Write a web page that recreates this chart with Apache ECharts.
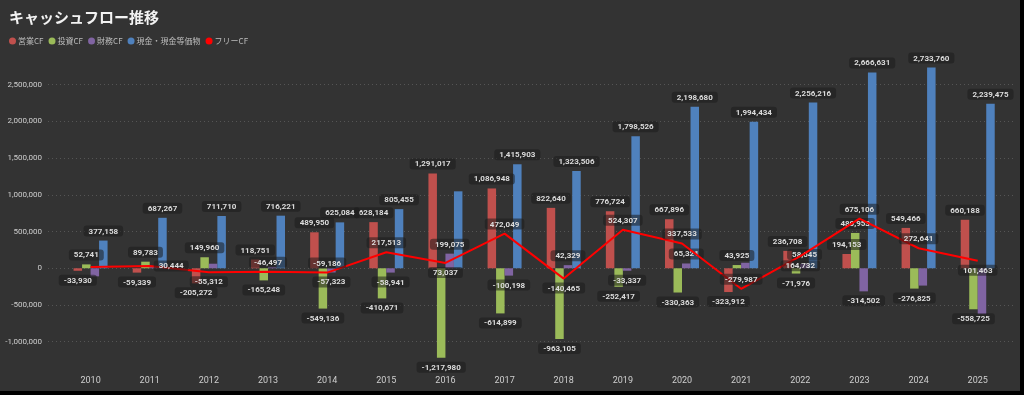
<!DOCTYPE html>
<html><head><meta charset="utf-8">
<script src="https://cdn.jsdelivr.net/npm/echarts@6/dist/echarts.min.js"></script>
<style>html,body{margin:0;padding:0;background:#000;}#c{width:1020px;height:391px;background:#333;}</style>
</head><body><div id="c"></div>
<script>
const years = ['2010','2011','2012','2013','2014','2015','2016','2017','2018','2019','2020','2021','2022','2023','2024','2025'];
const operatingCF = [-33930, -59339, -205272, 118751, 489950, 628184, 1291017, 1086948, 822640, 776724, 667896, -323912, 236708, 194153, 549466, 660188];
const investingCF = [52741, 89783, 149960, -165248, -549136, -410671, -1217980, -614899, -963105, -252417, -330363, 43925, -71976, 480953, -276825, -558725];
const financingCF = [-110000, 15000, 62000, 20000, -57323, -58941, 199075, -100198, 42329, -33337, 65321, 75000, 58545, -314502, -236000, -625000];
const cashEquiv = [377158, 687267, 711710, 716221, 625084, 805455, 1048000, 1415903, 1323506, 1798526, 2198680, 1994434, 2256216, 2666631, 2733760, 2239475];
const freeCF = [18811, 30444, -55312, -46497, -59186, 217513, 73037, 472049, -140465, 524307, 337533, -279987, 164732, 675106, 272641, 101463];
const seriesNames = ['営業CF', '投資CF', '財務CF', '現金・現金等価物', 'フリーCF'];
const yTicks = { min: -1500000, max: 3000000, step: 500000 };

// label display settings (not data)
const hiddenLabels = { '財務CF': ['2010','2011','2012','2013','2021','2024','2025'], '現金・現金等価物': ['2016'], 'フリーCF': ['2010'] };
const lineLabelBelow = ['2012','2016','2018','2022','2025'];
const lineLabelRight = ['2011'];

const fmt = v => Number(v).toLocaleString('en-US');
const labelBase = {
  show: true, formatter: p => fmt(p.value), color: '#dcdcdc', fontSize: 8, fontWeight: 'bold',
  fontFamily: 'Roboto, "DejaVu Sans", sans-serif',
  backgroundColor: 'rgba(28,28,28,0.55)', padding: [2, 5, 1, 5], borderRadius: 3, distance: 4
};
function barData(name, arr) {
  const hid = hiddenLabels[name] || [];
  return arr.map((v, i) => ({ value: v, label: { show: hid.indexOf(years[i]) < 0, position: v < 0 ? 'bottom' : 'top' } }));
}
function lineData(name, arr) {
  const hid = hiddenLabels[name] || [];
  return arr.map((v, i) => {
    let pos = 'top';
    if (lineLabelBelow.indexOf(years[i]) >= 0) pos = 'bottom';
    if (lineLabelRight.indexOf(years[i]) >= 0) pos = 'right';
    return { value: v, label: { show: hid.indexOf(years[i]) < 0, position: pos } };
  });
}
const colors = ['#c0504d', '#9bbb59', '#8064a2', '#4f81bd', '#ff0000'];
const barArrays = [operatingCF, investingCF, financingCF, cashEquiv];

const chart = echarts.init(document.getElementById('c'));
const valueAxisBase = { type: 'value', min: yTicks.min, max: yTicks.max, interval: yTicks.step };
chart.setOption({
  backgroundColor: '#333333',
  animation: false,
  title: { text: 'キャッシュフロー推移', left: 4, top: 5, textStyle: { color: '#f2f2f2', fontSize: 15, fontWeight: 'bold', fontFamily: '"Noto Sans CJK JP", sans-serif' } },
  legend: {
    left: 4, top: 32, icon: 'circle', itemWidth: 7, itemHeight: 7, itemGap: 5,
    textStyle: { color: '#bdbdbd', fontSize: 8, fontFamily: '"Noto Sans CJK JP", sans-serif', padding: [0, 0, 0, -3] },
    data: seriesNames
  },
  color: colors,
  grid: [
    { left: 48, right: 4, top: 48, bottom: 12.6 },
    { left: 61, right: 12.7, top: 48, bottom: 12.6 }
  ],
  xAxis: [
    { type: 'category', gridIndex: 0, data: years, show: false },
    { type: 'category', gridIndex: 1, data: years, axisLine: { show: false }, axisTick: { show: false },
      axisLabel: { color: '#cfcfcf', fontSize: 9, margin: -2, fontFamily: 'Roboto, sans-serif' } }
  ],
  yAxis: [
    Object.assign({}, valueAxisBase, { gridIndex: 0,
      axisLabel: { color: '#cfcfcf', fontSize: 8, margin: 6, showMinLabel: false, showMaxLabel: false, formatter: v => fmt(v), fontFamily: 'Roboto, sans-serif' },
      splitLine: { show: true, showMinLine: false, showMaxLine: false, lineStyle: { color: '#555555', type: [1, 3], width: 1 } },
      axisLine: { show: false }, axisTick: { show: false } }),
    Object.assign({}, valueAxisBase, { gridIndex: 1, show: false, splitLine: { show: false } })
  ],
  series: barArrays.map((arr, k) => ({
    name: seriesNames[k], type: 'bar', xAxisIndex: 1, yAxisIndex: 1,
    data: barData(seriesNames[k], arr),
    barGap: '0%', barCategoryGap: '42.5%',
    itemStyle: { color: colors[k] },
    label: Object.assign({}, labelBase),
    z: 2
  })).concat([{
    name: seriesNames[4], type: 'line', xAxisIndex: 1, yAxisIndex: 1,
    data: lineData(seriesNames[4], freeCF),
    symbol: 'circle', symbolSize: 0, showSymbol: true,
    lineStyle: { color: '#ff0000', width: 2 }, itemStyle: { color: '#ff0000' },
    label: Object.assign({}, labelBase),
    z: 5
  }])
});
</script></body></html>
